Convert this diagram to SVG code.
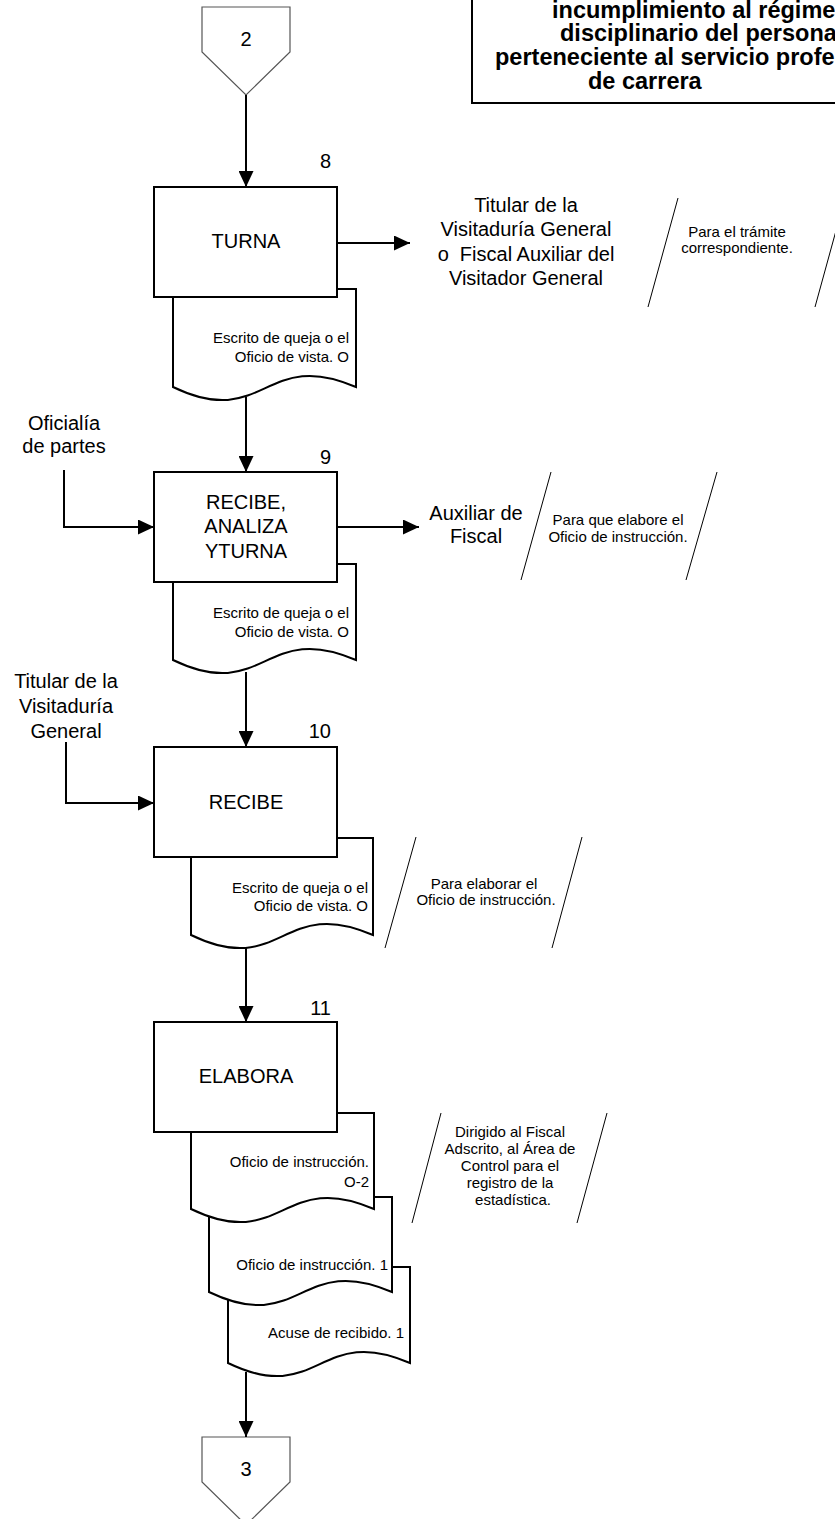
<svg xmlns="http://www.w3.org/2000/svg" width="835" height="1519" viewBox="0 0 835 1519">
<style>
text{font-family:"Liberation Sans",Arial,sans-serif;fill:#000}
.big{font-size:20px}
.sm{font-size:15px}
.title{font-size:23.5px;font-weight:bold}
.c{text-anchor:middle}
.r{text-anchor:end}
.box{fill:#fff;stroke:#000;stroke-width:2}
.doc{fill:#fff;stroke:#000;stroke-width:2}
.pent{fill:#fff;stroke:#555;stroke-width:1.2}
.slash{fill:none;stroke:#000;stroke-width:1}
.conn{fill:none;stroke:#000;stroke-width:2}
.arr{marker-end:url(#ah)}
</style>
<defs>
<marker id="ah" viewBox="0 0 16 15" refX="16" refY="7.5" markerWidth="16" markerHeight="15" markerUnits="userSpaceOnUse" orient="auto">
<path d="M0,0 L16,7.5 L0,15 z" fill="#000"/>
</marker>
</defs>
<rect width="835" height="1519" fill="#fff"/>

<g id="title">
<rect x="472" y="-10" width="420" height="113" fill="#fff" stroke="#000" stroke-width="2"/>
<text class="title" x="552" y="18">incumplimiento al régime</text>
<text class="title" x="560" y="41">disciplinario del persona</text>
<text class="title" x="495" y="65">perteneciente al servicio profe</text>
<text class="title" x="588" y="89">de carrera</text>
</g>

<g id="conn-2">
<polygon class="pent" points="202,7 290,7 290,52 246,95 202,52"/>
<text class="big c" x="246" y="46">2</text>
</g>

<g id="doc-8">
<path class="doc" d="M173,289 H356 V387 C264.5,347 264.5,431 173,387 Z"/>
<text class="sm r" x="349" y="343">Escrito de queja o el</text>
<text class="sm r" x="349" y="362">Oficio de vista. O</text>
</g>
<g id="step-8">
<rect class="box" x="154" y="187" width="183" height="110"/>
<text class="big c" x="246" y="248">TURNA</text>
<text class="big r" x="331" y="168">8</text>
</g>
<g id="dest-8">
<text class="big c" x="526" y="212">Titular de la</text>
<text class="big c" x="526" y="236">Visitaduría General</text>
<text class="big c" x="526" y="261">o&#160; Fiscal Auxiliar del</text>
<text class="big c" x="526" y="285">Visitador General</text>
</g>
<g id="note-8">
<line class="slash" x1="678" y1="198" x2="648" y2="307"/>
<line class="slash" x1="845" y1="198" x2="815" y2="307"/>
<text class="sm c" x="737" y="237">Para el trámite</text>
<text class="sm c" x="737" y="253">correspondiente.</text>
</g>

<g id="src-9">
<text class="big c" x="64" y="430">Oficialía</text>
<text class="big c" x="64" y="453">de partes</text>
</g>
<g id="doc-9">
<path class="doc" d="M173,564 H356 V660 C264.5,620 264.5,704 173,660 Z"/>
<text class="sm r" x="349" y="618">Escrito de queja o el</text>
<text class="sm r" x="349" y="637">Oficio de vista. O</text>
</g>
<g id="step-9">
<rect class="box" x="154" y="472" width="183" height="110"/>
<text class="big c" x="246" y="509">RECIBE,</text>
<text class="big c" x="246" y="533">ANALIZA</text>
<text class="big c" x="246" y="558">YTURNA</text>
<text class="big r" x="331" y="464">9</text>
</g>
<g id="dest-9">
<text class="big c" x="476" y="520">Auxiliar de</text>
<text class="big c" x="476" y="543">Fiscal</text>
</g>
<g id="note-9">
<line class="slash" x1="551" y1="472" x2="521" y2="580"/>
<line class="slash" x1="717" y1="472" x2="686" y2="580"/>
<text class="sm c" x="618" y="525">Para que elabore el</text>
<text class="sm c" x="618" y="542">Oficio de instrucción.</text>
</g>

<g id="src-10">
<text class="big c" x="66" y="688">Titular de la</text>
<text class="big c" x="66" y="713">Visitaduría</text>
<text class="big c" x="66" y="738">General</text>
</g>
<g id="doc-10">
<path class="doc" d="M191,838 H373 V935 C282,895 282,979 191,935 Z"/>
<text class="sm r" x="368" y="893">Escrito de queja o el</text>
<text class="sm r" x="368" y="911">Oficio de vista. O</text>
</g>
<g id="step-10">
<rect class="box" x="154" y="747" width="183" height="110"/>
<text class="big c" x="246" y="809">RECIBE</text>
<text class="big r" x="331" y="738">10</text>
</g>
<g id="note-10">
<line class="slash" x1="416" y1="837" x2="385" y2="948"/>
<line class="slash" x1="582" y1="837" x2="552" y2="948"/>
<text class="sm c" x="484" y="889">Para elaborar el</text>
<text class="sm c" x="486" y="905">Oficio de instrucción.</text>
</g>

<g id="doc-11c">
<path class="doc" d="M228,1267 H410 V1363 C319,1323 319,1407 228,1363 Z"/>
<text class="sm r" x="404" y="1338">Acuse de recibido. 1</text>
</g>
<g id="doc-11b">
<path class="doc" d="M209,1197 H392 V1292 C300.5,1252 300.5,1336 209,1292 Z"/>
<text class="sm r" x="388" y="1270">Oficio de instrucción. 1</text>
</g>
<g id="doc-11a">
<path class="doc" d="M191,1113 H374 V1209 C282.5,1169 282.5,1253 191,1209 Z"/>
<text class="sm r" x="369" y="1167">Oficio de instrucción.</text>
<text class="sm r" x="369" y="1187">O-2</text>
</g>
<g id="step-11">
<rect class="box" x="154" y="1022" width="183" height="110"/>
<text class="big c" x="246" y="1083">ELABORA</text>
<text class="big r" x="331" y="1015">11</text>
</g>
<g id="note-11">
<line class="slash" x1="441" y1="1113" x2="412" y2="1223"/>
<line class="slash" x1="607" y1="1113" x2="577" y2="1223"/>
<text class="sm c" x="510" y="1137">Dirigido al Fiscal</text>
<text class="sm c" x="510" y="1154">Adscrito, al Área de</text>
<text class="sm c" x="510" y="1171">Control para el</text>
<text class="sm c" x="510" y="1188">registro de la</text>
<text class="sm c" x="513" y="1205">estadística.</text>
</g>

<g id="conn-3">
<polygon class="pent" points="202,1437 290,1437 290,1482 246,1525 202,1482"/>
<text class="big c" x="246" y="1476">3</text>
</g>

<g id="connectors">
<line class="conn arr" x1="246" y1="95" x2="246" y2="187"/>
<line class="conn arr" x1="337" y1="243" x2="410" y2="243"/>
<line class="conn arr" x1="246" y1="397" x2="246" y2="472"/>
<polyline class="conn arr" points="64,470 64,527 154,527"/>
<line class="conn arr" x1="337" y1="527" x2="419" y2="527"/>
<line class="conn arr" x1="246" y1="672" x2="246" y2="747"/>
<polyline class="conn arr" points="66,742 66,803 154,803"/>
<line class="conn arr" x1="246" y1="948" x2="246" y2="1022"/>
<line class="conn arr" x1="246" y1="1372" x2="246" y2="1437"/>
</g>
</svg>
